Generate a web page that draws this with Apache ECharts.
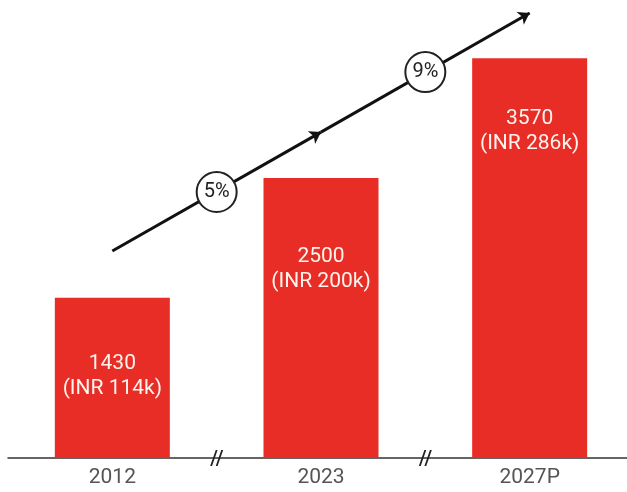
<!DOCTYPE html>
<html><head><meta charset="utf-8">
<script src="https://cdn.jsdelivr.net/npm/echarts@6/dist/echarts.min.js"></script>
<style>html,body{margin:0;padding:0;background:#fff;overflow:hidden}#c{width:634px;height:492px}</style>
</head><body><div id="c"></div>
<script>
const categories = ['2012', '2023', '2027P'];
const values = [1430, 2500, 3570];
const inrLabels = ['INR 114k', 'INR 200k', 'INR 286k'];
// growth trend arrow (x in category units, y in value units)
const trendStart = [0, 1848];
const trendMid = [1, 2910];
const trendEnd = [2, 3973];
const growthX = [0.5, 1.5];
const growthY = [2375, 3446];
const growthLabels = ['5%', '9%'];
const breakX = [0.5, 1.5];

const labelDist = [53, 66, 48];
const chart = echarts.init(document.getElementById('c'), null, {renderer: 'canvas'});
const FONT = 'Roboto, "Noto Sans", sans-serif';
chart.setOption({
  animation: false,
  grid: {left: 8, right: 0, top: 10, bottom: 34, containLabel: false},
  xAxis: [{
    type: 'category', data: categories,
    axisLine: {show: true, lineStyle: {color: '#333', width: 1.5}},
    axisTick: {show: false},
    axisLabel: {color: '#555', fontSize: 21, fontFamily: FONT, margin: 9}
  }, {
    type: 'value', min: -0.5, max: 2.5, show: false
  }],
  yAxis: {type: 'value', min: 0, max: 4000, show: false},
  series: [{
    type: 'bar', barWidth: 115,
    data: values.map((v, i) => ({
      value: v,
      label: {distance: labelDist[i]}
    })),
    itemStyle: {color: '#E72D25'},
    label: {
      show: true, position: 'insideTop', color: '#FFF3EE',
      fontSize: 21, fontFamily: FONT, lineHeight: 25,
      formatter: p => p.value + '\n(' + inrLabels[p.dataIndex] + ')'
    }
  }, {
    type: 'lines', coordinateSystem: 'cartesian2d', xAxisIndex: 1, yAxisIndex: 0,
    symbol: ['none', 'arrow'], symbolSize: 11, z: 3, zlevel: 0,
    lineStyle: {color: '#111', width: 3, opacity: 1},
    data: [{coords: [trendStart, trendMid]}, {coords: [trendMid, trendEnd]}]
  }, {
    type: 'scatter', xAxisIndex: 1, yAxisIndex: 0, z: 5, zlevel: 1,
    symbol: 'circle', symbolSize: 40,
    itemStyle: {color: '#fff', borderColor: '#222', borderWidth: 2, opacity: 1},
    label: {show: true, position: 'inside', color: '#222', fontSize: 20, fontFamily: FONT,
      formatter: p => growthLabels[p.dataIndex]},
    data: growthX.map((x, i) => [x, growthY[i]])
  }, {
    type: 'scatter', xAxisIndex: 1, yAxisIndex: 0, z: 5, zlevel: 1,
    symbol: 'path://M6,0 L8,0 L2,16 L0,16 Z M12,0 L14,0 L8,16 L6,16 Z',
    symbolSize: [13, 16],
    itemStyle: {color: '#222', opacity: 1},
    data: breakX.map(x => [x, 0])
  }]
});
</script></body></html>
